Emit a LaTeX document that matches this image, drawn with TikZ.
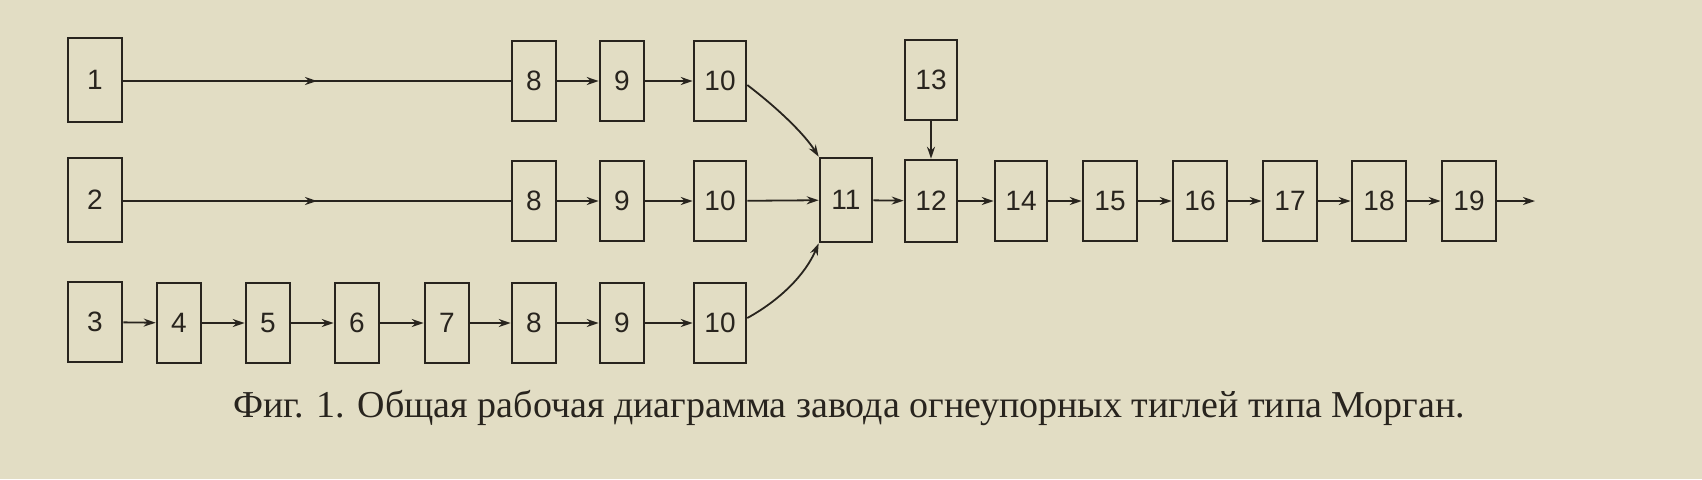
\documentclass[tikz,border=0pt]{standalone}
\usepackage{fontspec}
\setmainfont{Liberation Serif}
\newfontfamily\boxfont{Liberation Sans}
\usetikzlibrary{decorations.markings,arrows.meta}
\definecolor{paper}{RGB}{226,221,196}
\definecolor{ink}{RGB}{40,36,30}
\begin{document}
\begin{tikzpicture}[x=0.5pt,y=-0.5pt,
  bx/.style={draw=ink,text=ink,line width=1.3pt,minimum width=26pt,minimum height=40pt,inner sep=0pt,font=\boxfont\fontsize{14}{14}\selectfont},
  ar/.style={draw=ink,-{Stealth[length=6pt,width=4pt]},line width=0.9pt},
  ln/.style={draw=ink,line width=0.9pt},
  midar/.style={ln,postaction={decorate},decoration={markings,mark=at position 0.5 with {\arrow{Stealth[length=6pt,width=4pt]}}}}]
\fill[paper] (0,0) rectangle (1702,479);
\useasboundingbox (0,0) rectangle (1702,479);
\node[bx,minimum width=27pt,minimum height=42pt] (n1) at (95,80) {1};
\node[bx,minimum width=27pt,minimum height=42pt] (n2) at (95,200) {2};
\node[bx,minimum width=27pt,minimum height=40pt] (n3) at (95,322) {3};
\foreach \r/\y in {a/81,b/201,c/323}{
  \node[bx,minimum width=22pt] (e\r) at (534,\y) {8};
  \node[bx,minimum width=22pt] (f\r) at (622,\y) {9};
  \node[bx] (g\r) at (720,\y) {10};
}
\node[bx,minimum width=22pt] (n4) at (179,323) {4};
\node[bx,minimum width=22pt] (n5) at (268,323) {5};
\node[bx,minimum width=22pt] (n6) at (357,323) {6};
\node[bx,minimum width=22pt] (n7) at (447,323) {7};
\node[bx,minimum width=26pt,minimum height=42pt] (n11) at (846,200) {11};
\node[bx,minimum height=40pt] (n13) at (931,80) {13};
\node[bx,minimum height=41pt] (n12) at (931,201) {12};
\node[bx] (n14) at (1021,201) {14};
\node[bx,minimum width=27pt] (n15) at (1110,201) {15};
\node[bx,minimum width=27pt] (n16) at (1200,201) {16};
\node[bx,minimum width=27pt] (n17) at (1290,201) {17};
\node[bx,minimum width=27pt] (n18) at (1379,201) {18};
\node[bx,minimum width=27pt] (n19) at (1469,201) {19};
\coordinate (end) at (1535,201);
\draw[midar] (n1.east|-ea.west) -- (ea.west);
\draw[midar] (n2.east|-eb.west) -- (eb.west);
\foreach \a/\b in {ea/fa,fa/ga,eb/fb,fb/gb,ec/fc,fc/gc,n3/n4,n4/n5,n5/n6,n6/n7,n7/ec,gb/n11,n11/n12,n12/n14,n14/n15,n15/n16,n16/n17,n17/n18,n18/n19,n19/end}
  \draw[ar] (\a) -- (\b);
\draw[ar] (n13) -- (n12);
\draw[ar] (ga.east|-0,85) .. controls (780,110) and (805,135) .. (n11.north west);
\draw[ar] (gc.east|-0,318) .. controls (780,300) and (805,275) .. (n11.south west);
\node[text=ink,font=\fontsize{19}{19}\selectfont] (cap) at (849,408) {Фиг. 1. Общая рабочая диаграмма завода огнеупорных тиглей типа Морган.};
\end{tikzpicture}
\end{document}
